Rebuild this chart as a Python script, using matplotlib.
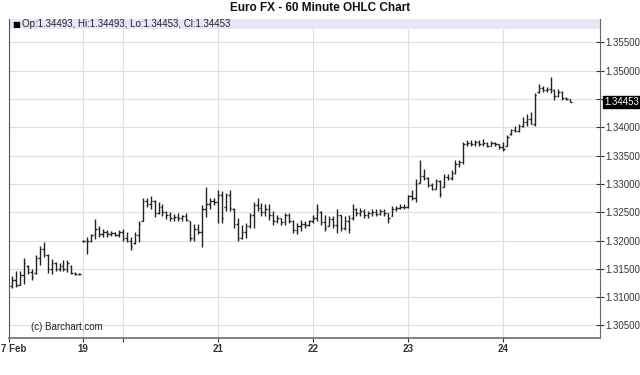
import matplotlib
matplotlib.use("Agg")
import matplotlib.pyplot as plt
import numpy as np

plt.rcParams['font.family'] = ['Liberation Sans', 'DejaVu Sans']

# ---- data (hourly OHLC bars) ----
opens = [
    1.3120, 1.3130, 1.3122, 1.3140, 1.3155, 1.3145, 1.3142, 1.3170, 1.3185, 1.3175,
    1.3150, 1.3160, 1.3150, 1.3155, 1.3150, 1.3155, 1.3143, 1.3141,
    1.3200, 1.3199, 1.3200, 1.3210, 1.3220, 1.3212, 1.3215, 1.3212, 1.3214, 1.3210,
    1.3215, 1.3205, 1.3200, 1.3195, 1.3210, 1.3235, 1.3270, 1.3265, 1.3270, 1.3248,
    1.3260, 1.3250, 1.3245, 1.3240, 1.3242, 1.3240, 1.3243, 1.3235, 1.3205, 1.3220,
    1.3215, 1.3255, 1.3265, 1.3270,
    1.3268, 1.3280, 1.3260, 1.3280, 1.3256, 1.3230, 1.3205, 1.3215, 1.3225, 1.3245,
    1.3262, 1.3258, 1.3250, 1.3255, 1.3245, 1.3235, 1.3240, 1.3232, 1.3245, 1.3235,
    1.3218, 1.3225, 1.3230, 1.3228,
    1.3235, 1.3240, 1.3250, 1.3232, 1.3225, 1.3238, 1.3228, 1.3245, 1.3222, 1.3235,
    1.3240, 1.3255, 1.3248, 1.3252, 1.3245, 1.3248, 1.3250, 1.3247, 1.3252, 1.3248,
    1.3243, 1.3255, 1.3258, 1.3260,
    1.3259, 1.3278, 1.3275, 1.3302, 1.3315, 1.3310, 1.3298, 1.3292, 1.3305, 1.3295,
    1.3312, 1.3310, 1.3320, 1.3335, 1.3338, 1.3370, 1.3372, 1.3370, 1.3374, 1.3370,
    1.3372, 1.3368, 1.3373, 1.3370,
    1.3365, 1.3367, 1.3388, 1.3395, 1.3393, 1.3402, 1.3410, 1.3415, 1.3406, 1.3462,
    1.3470, 1.3466, 1.3468, 1.3466, 1.3455, 1.3462, 1.3452, 1.34493,
]
highs = [
    1.3137, 1.3147, 1.3147, 1.3169, 1.3156, 1.3150, 1.3174, 1.3191, 1.3198, 1.3177,
    1.3168, 1.3162, 1.3160, 1.3166, 1.3166, 1.3156, 1.3144, 1.3142,
    1.3201, 1.3207, 1.3212, 1.3238, 1.3225, 1.3221, 1.3218, 1.3217, 1.3215, 1.3219,
    1.3221, 1.3215, 1.3206, 1.3215, 1.3235, 1.3276, 1.3276, 1.3278, 1.3271, 1.3269,
    1.3265, 1.3253, 1.3250, 1.3247, 1.3248, 1.3246, 1.3248, 1.3235, 1.3229, 1.3229,
    1.3262, 1.3294, 1.3276, 1.3275,
    1.3290, 1.3288, 1.3284, 1.3290, 1.3258, 1.3240, 1.3228, 1.3231, 1.3249, 1.3269,
    1.3275, 1.3266, 1.3264, 1.3264, 1.3252, 1.3246, 1.3240, 1.3249, 1.3249, 1.3237,
    1.3231, 1.3237, 1.3234, 1.3237,
    1.3246, 1.3264, 1.3252, 1.3246, 1.3243, 1.3243, 1.3255, 1.3246, 1.3243, 1.3246,
    1.3264, 1.3258, 1.3258, 1.3255, 1.3252, 1.3255, 1.3255, 1.3255, 1.3255, 1.3249,
    1.3261, 1.3261, 1.3264, 1.3264,
    1.3281, 1.3289, 1.3309, 1.3343, 1.3327, 1.3312, 1.3301, 1.3309, 1.3307, 1.3318,
    1.3318, 1.3324, 1.3342, 1.3342, 1.3374, 1.3378, 1.3378, 1.3377, 1.3377, 1.3380,
    1.3374, 1.3376, 1.3374, 1.3371,
    1.3374, 1.3386, 1.3398, 1.3403, 1.3406, 1.3418, 1.3424, 1.3427, 1.3460, 1.3476,
    1.3473, 1.3471, 1.3489, 1.3468, 1.3467, 1.3465, 1.3453, 1.34493,
]
lows = [
    1.3117, 1.3118, 1.3121, 1.3124, 1.3141, 1.3131, 1.3141, 1.3156, 1.3171, 1.3142,
    1.3141, 1.3147, 1.3147, 1.3147, 1.3144, 1.3141, 1.3140, 1.3140,
    1.3197, 1.3177, 1.3197, 1.3203, 1.3206, 1.3207, 1.3207, 1.3208, 1.3208, 1.3206,
    1.3200, 1.3197, 1.3184, 1.3194, 1.3197, 1.3235, 1.3259, 1.3256, 1.3241, 1.3247,
    1.3244, 1.3238, 1.3235, 1.3235, 1.3235, 1.3235, 1.3235, 1.3200, 1.3200, 1.3212,
    1.3188, 1.3241, 1.3256, 1.3262,
    1.3231, 1.3231, 1.3252, 1.3252, 1.3222, 1.3199, 1.3202, 1.3205, 1.3222, 1.3222,
    1.3252, 1.3243, 1.3243, 1.3237, 1.3228, 1.3231, 1.3228, 1.3228, 1.3231, 1.3214,
    1.3212, 1.3217, 1.3222, 1.3225,
    1.3231, 1.3234, 1.3228, 1.3217, 1.3225, 1.3222, 1.3214, 1.3217, 1.3219, 1.3214,
    1.3237, 1.3243, 1.3243, 1.3240, 1.3240, 1.3243, 1.3243, 1.3246, 1.3243, 1.3231,
    1.3243, 1.3252, 1.3255, 1.3255,
    1.3257, 1.3271, 1.3268, 1.3301, 1.3307, 1.3295, 1.3289, 1.3292, 1.3277, 1.3295,
    1.3307, 1.3307, 1.3318, 1.3330, 1.3336, 1.3368, 1.3368, 1.3368, 1.3368, 1.3367,
    1.3365, 1.3368, 1.3368, 1.3361,
    1.3358, 1.3367, 1.3386, 1.3391, 1.3391, 1.3400, 1.3403, 1.3406, 1.3403, 1.3460,
    1.3463, 1.3463, 1.3460, 1.3448, 1.3454, 1.3448, 1.3449, 1.34453,
]
closes = [
    1.3130, 1.3122, 1.3140, 1.3160, 1.3145, 1.3135, 1.3170, 1.3185, 1.3175, 1.3150,
    1.3160, 1.3150, 1.3155, 1.3150, 1.3160, 1.3143, 1.3141, 1.3141,
    1.3199, 1.3200, 1.3210, 1.3220, 1.3212, 1.3215, 1.3212, 1.3214, 1.3210, 1.3215,
    1.3205, 1.3200, 1.3190, 1.3210, 1.3230, 1.3270, 1.3265, 1.3270, 1.3248, 1.3260,
    1.3250, 1.3245, 1.3240, 1.3242, 1.3240, 1.3243, 1.3237, 1.3205, 1.3220, 1.3215,
    1.3255, 1.3265, 1.3270, 1.3268,
    1.3280, 1.3240, 1.3280, 1.3258, 1.3230, 1.3205, 1.3215, 1.3225, 1.3245, 1.3262,
    1.3258, 1.3250, 1.3255, 1.3245, 1.3235, 1.3240, 1.3232, 1.3245, 1.3235, 1.3218,
    1.3225, 1.3230, 1.3228, 1.3235,
    1.3240, 1.3255, 1.3232, 1.3222, 1.3238, 1.3228, 1.3245, 1.3222, 1.3235, 1.3220,
    1.3255, 1.3248, 1.3252, 1.3245, 1.3248, 1.3250, 1.3247, 1.3252, 1.3248, 1.3240,
    1.3255, 1.3258, 1.3260, 1.3259,
    1.3278, 1.3275, 1.3300, 1.3315, 1.3310, 1.3298, 1.3292, 1.3305, 1.3282, 1.3312,
    1.3310, 1.3320, 1.3335, 1.3338, 1.3370, 1.3372, 1.3370, 1.3374, 1.3370, 1.3372,
    1.3368, 1.3373, 1.3370, 1.3365,
    1.3362, 1.3383, 1.3395, 1.3393, 1.3402, 1.3410, 1.3415, 1.3406, 1.3458, 1.3470,
    1.3466, 1.3468, 1.3466, 1.3455, 1.3462, 1.3452, 1.3450, 1.34453,
]

day_ticks = [-0.76, 18, 28, 52, 76, 100, 124]
day_labels = ["", "19", "", "21", "22", "23", "24"]
first_day_label = "7 Feb"   # shown clipped at the left edge in the original
price_ticks = [1.305, 1.310, 1.315, 1.320, 1.325, 1.330, 1.335, 1.340, 1.345, 1.350, 1.355]
last_price = 1.34453
title = "Euro FX - 60 Minute OHLC Chart"
legend_text = "Op:1.34493, Hi:1.34493, Lo:1.34453, Cl:1.34453"

# ---- figure ----
W, H = 640, 375
fig = plt.figure(figsize=(W / 100, H / 100), dpi=100)
ax = fig.add_axes([9 / W, 37 / H, 591 / W, 319 / H])

x = np.arange(len(opens))
bar_col = '#222222'
ax.vlines(x, lows, highs, color=bar_col, linewidth=1.0, zorder=3)
ax.hlines(opens, x - 0.4, x, color=bar_col, linewidth=1.0, zorder=3)
ax.hlines(closes, x, x + 0.4, color=bar_col, linewidth=1.0, zorder=3)

ax.set_xlim(-0.76, 148.5)
ax.set_ylim(1.30279, 1.35915)

# grid
for t in price_ticks:
    ax.axhline(t, color='#dedede', linewidth=0.8, zorder=1)
for t in day_ticks[1:]:
    ax.axvline(t, color='#dedede', linewidth=0.8, zorder=1)

# legend band
ax.add_patch(plt.Rectangle((0, 1 - 10 / 319), 1, 10 / 319, transform=ax.transAxes,
                           facecolor='#e6e6f8', edgecolor='none', zorder=2))

# spines
ax.spines['top'].set_visible(False)
ax.spines['left'].set_color('#555555')
ax.spines['right'].set_color('#666666')
ax.spines['bottom'].set_color('#777777')
ax.spines['bottom'].set_linewidth(1.3)

# y axis on right
ax.yaxis.tick_right()
ax.set_yticks(price_ticks)
ylabels = ["%.5f" % t for t in price_ticks]
ylabels[price_ticks.index(1.345)] = ""
ax.set_yticklabels(ylabels)
ax.tick_params(axis='y', which='both', direction='inout', length=6, width=0.8,
               colors='#333333', labelsize=7, pad=1, left=False, right=True)

ax.set_xticks(day_ticks)
ax.set_xticklabels(day_labels, fontweight='bold')
ax.tick_params(axis='x', direction='out', length=3, width=0.8, colors='#333333',
               labelsize=7, pad=1.5)

# first day label (left edge)
fig.text(1 / W, 1 - 349 / H, first_day_label, ha='left', va='center', fontsize=7,
         fontweight='bold', color='#333333')

# last price marker
ax.annotate("%.5f" % last_price, xy=(1, last_price),
            xycoords=('axes fraction', 'data'), xytext=(3, 0),
            textcoords='offset points', ha='left', va='center', fontsize=7,
            color='white', bbox=dict(boxstyle='square,pad=0.1', facecolor='black',
                                     edgecolor='black'), annotation_clip=False)

# texts
fig.text(0.5, 1 - 8 / H, title, ha='center', va='center', fontsize=8.5,
         fontweight='bold', color='#111111')
fig.text(12 / W, 1 - 24 / H, "\u25A0", ha='left', va='center', fontsize=6,
         color='black', family=['DejaVu Sans'])
fig.text(22 / W, 1 - 24 / H, legend_text, ha='left', va='center', fontsize=7,
         color='#222222')
ax.text(22 / 591, (338 - 327) / 319, "(c) Barchart.com", transform=ax.transAxes,
        ha='left', va='center', fontsize=7, color='#222222')

fig.savefig("out.png", dpi=100)
